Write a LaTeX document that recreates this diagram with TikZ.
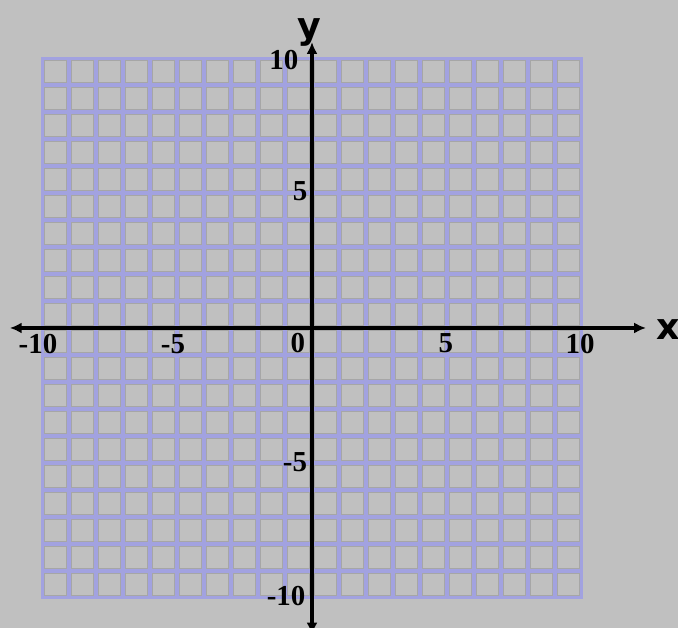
\documentclass[tikz,border=0pt]{standalone}
\usepackage{fontspec}
\setmainfont{Liberation Serif}
\newfontfamily\axisfont{DejaVu Sans}
\usetikzlibrary{arrows.meta}
\definecolor{bggrey}{RGB}{192,192,192}
\definecolor{gridlav}{RGB}{162,162,224}
\definecolor{cellrim}{RGB}{166,166,166}
\begin{document}
\begin{tikzpicture}[x=0.6cm,y=0.6cm,
  tick/.style={font=\fontsize{18.3}{20}\selectfont\bfseries, inner sep=0pt},
  axislabel/.style={font=\axisfont\bfseries\fontsize{23}{26}\selectfont, inner sep=0pt},
  axisline/.style={line width=2.6pt, {Latex[length=7.5pt,width=7pt]}-{Latex[length=7.5pt,width=7pt]}},
  cell/.style={fill=bggrey, draw=cellrim, line width=0.6pt}]

  % ---- background (fixes the margins) ----
  \clip (-11.556,-11.111) rectangle (13.556,12.148);
  \fill[bggrey] (-11.556,-11.111) rectangle (13.556,12.148);

  % ---- lavender grid: 20 x 20 cells ----
  \fill[gridlav] (-10.05,-10.05) rectangle (10.05,10.05);
  \foreach \i in {-10,...,9} {
    \foreach \j in {-10,...,9} {
      \draw[cell] (\i+0.1,\j+0.1) rectangle (\i+0.9,\j+0.9);
    }
  }

  % ---- axes ----
  \coordinate (xl) at (-11.19,0);
  \coordinate (xr) at (12.37,0);
  \coordinate (yb) at (0,-11.35);
  \coordinate (yt) at (0,10.59);
  \draw[axisline] (xl) -- (xr);
  \draw[axisline] (yb) -- (yt);

  % ---- axis names ----
  \node[axislabel, anchor=base west] (xlab) at (12.74,-0.44) {x};
  \node[axislabel, anchor=base] (ylab) at (-0.1,10.74) {y};

  % ---- tick numbers on x ----
  \node[tick] (tm10x) at (-10.15,-0.59) {-10};
  \node[tick] (tm5x)  at (-5.15,-0.59)  {-5};
  \node[tick] (t0)    at (-0.52,-0.56)  {0};
  \node[tick] (t5x)   at (4.96,-0.56)   {5};
  \node[tick] (t10x)  at (9.93,-0.59)   {10};

  % ---- tick numbers on y ----
  \node[tick] (t10y)  at (-1.04,9.93)   {10};
  \node[tick] (t5y)   at (-0.44,5.07)   {5};
  \node[tick] (tm5y)  at (-0.63,-4.96)  {-5};
  \node[tick] (tm10y) at (-0.96,-9.93)  {-10};

\end{tikzpicture}
\end{document}
